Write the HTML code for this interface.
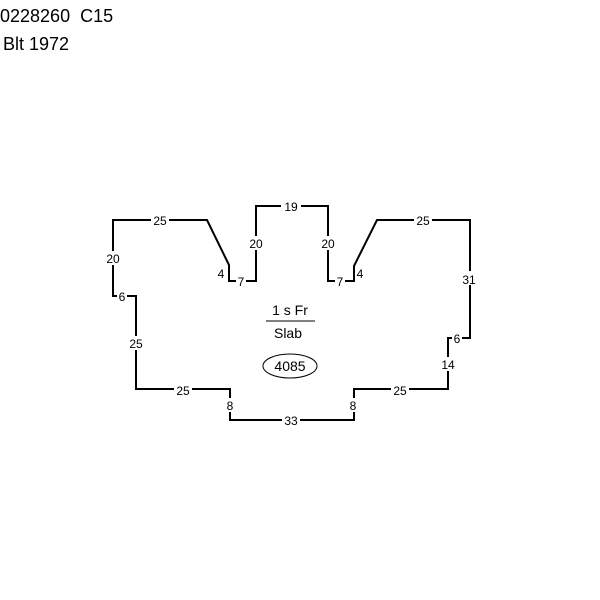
<!DOCTYPE html>
<html><head><style>body{margin:0;background:#fff}svg{display:block}</style></head><body>
<svg width="600" height="600" xmlns="http://www.w3.org/2000/svg" font-family="Liberation Sans, sans-serif">
<text x="0" y="22" font-size="18">0228260&#160;&#160;C15</text>
<text x="3" y="50" font-size="18">Blt 1972</text>
<polygon points="113,220 207,220 229,265 229,281 256,281 256,206 328,206 328,281 354,281 354,266 377,220 470,220 470,338 448,338 448,389 354,389 354,420 230,420 230,389 136,389 136,296 113,296" fill="none" stroke="#000" stroke-width="2"/>
<g font-size="12" text-anchor="middle">
<g fill="#fff">
<rect x="151" y="213" width="18" height="14"/><rect x="281" y="199" width="20" height="14"/><rect x="414" y="213" width="18" height="14"/>
<rect x="104" y="251" width="18" height="14"/><rect x="247" y="236" width="18" height="14"/><rect x="319" y="236" width="18" height="14"/>
<rect x="461" y="271" width="18" height="14"/><rect x="127" y="336" width="18" height="14"/><rect x="439" y="357" width="18" height="14"/>
<rect x="174" y="383" width="18" height="14"/><rect x="391" y="383" width="18" height="14"/><rect x="282" y="413" width="18" height="14"/>
<rect x="236" y="275" width="10" height="14"/><rect x="335" y="275" width="10" height="14"/><rect x="117" y="290" width="10" height="14"/><rect x="452" y="332" width="10" height="14"/>
<rect x="225" y="398" width="10" height="14"/><rect x="349" y="398" width="10" height="14"/>
</g>
<text x="160" y="225">25</text><text x="291" y="211">19</text><text x="423" y="225">25</text>
<text x="113" y="263">20</text><text x="256" y="248">20</text><text x="328" y="248">20</text>
<text x="221" y="278">4</text><text x="360" y="278">4</text>
<text x="241" y="286">7</text><text x="340" y="286">7</text>
<text x="469" y="284">31</text><text x="122" y="301">6</text><text x="457" y="343">6</text>
<text x="136" y="348">25</text><text x="448" y="369">14</text>
<text x="183" y="395">25</text><text x="400" y="395">25</text>
<text x="230" y="410">8</text><text x="353" y="410">8</text><text x="291" y="425">33</text>
</g>
<g font-size="14" text-anchor="middle">
<text x="290" y="315">1 s Fr</text>
<line x1="266" y1="321" x2="315" y2="321" stroke="#000" stroke-width="1"/>
<text x="288" y="338">Slab</text>
<ellipse cx="290" cy="366" rx="27" ry="12" fill="none" stroke="#000" stroke-width="1"/>
<text x="290" y="371">4085</text>
</g>
</svg>
</body></html>
